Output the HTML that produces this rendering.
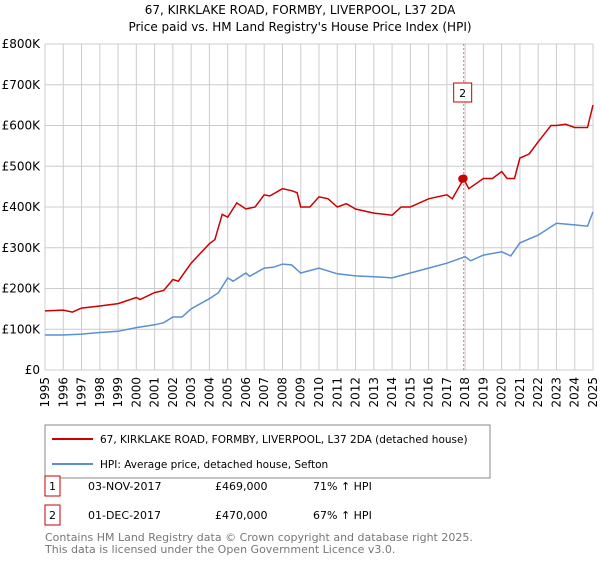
<!DOCTYPE html>
<html><head><meta charset="utf-8"><style>
body{margin:0;width:600px;height:560px;background:#fff;font-family:"Liberation Sans","DejaVu Sans",sans-serif;overflow:hidden}
svg text{font-family:"DejaVu Sans","Liberation Sans",sans-serif}
</style></head><body>
<svg id="c" width="600" height="560" xmlns="http://www.w3.org/2000/svg">
<text x="300" y="14" text-anchor="middle" font-size="12">67, KIRKLAKE ROAD, FORMBY, LIVERPOOL, L37 2DA</text>
<text x="300" y="31" text-anchor="middle" font-size="12">Price paid vs. HM Land Registry's House Price Index (HPI)</text>
<g id="grid"></g><g id="axes"></g><g id="series"></g>
<rect x="45" y="425" width="445" height="53" fill="#fff" stroke="#888"/>
<line x1="52" y1="439" x2="93" y2="439" stroke="#cc0000" stroke-width="2"/>
<text x="100" y="443" font-size="10.5">67, KIRKLAKE ROAD, FORMBY, LIVERPOOL, L37 2DA (detached house)</text>
<line x1="52" y1="464" x2="93" y2="464" stroke="#5b8fd4" stroke-width="2"/>
<text x="100" y="468" font-size="10.5">HPI: Average price, detached house, Sefton</text>
<rect x="45" y="476" width="15" height="20" fill="#fff" stroke="#cc0000"/>
<text x="52.5" y="490" text-anchor="middle" font-size="11">1</text>
<text x="88" y="490" font-size="11">03-NOV-2017</text>
<text x="215" y="490" font-size="11">£469,000</text>
<text x="313" y="490" font-size="11">71% ↑ HPI</text>
<rect x="45" y="505" width="15" height="20" fill="#fff" stroke="#cc0000"/>
<text x="52.5" y="519" text-anchor="middle" font-size="11">2</text>
<text x="88" y="519" font-size="11">01-DEC-2017</text>
<text x="215" y="519" font-size="11">£470,000</text>
<text x="313" y="519" font-size="11">67% ↑ HPI</text>
<text x="45" y="541" font-size="11" fill="#777">Contains HM Land Registry data © Crown copyright and database right 2025.</text>
<text x="45" y="553" font-size="11" fill="#777">This data is licensed under the Open Government Licence v3.0.</text>
</svg>
<script>
const yTicks=[0,100,200,300,400,500,600,700,800];
const yTickLabels=["£0","£100K","£200K","£300K","£400K","£500K","£600K","£700K","£800K"];
const xYears=[1995,1996,1997,1998,1999,2000,2001,2002,2003,2004,2005,2006,2007,2008,2009,2010,2011,2012,2013,2014,2015,2016,2017,2018,2019,2020,2021,2022,2023,2024,2025];
const hpiT=[1995,1996,1997,1998,1999,2000,2001,2001.5,2002,2002.5,2003,2004,2004.5,2005,2005.3,2006,2006.2,2007,2007.5,2008,2008.5,2009,2010,2011,2012,2013,2014,2015,2016,2017,2018,2018.3,2019,2020,2020.5,2021,2022,2023,2024,2024.7,2025];
const hpiV=[86,86,88,92,95,104,111,116,130,130,150,175,190,226,218,238,230,250,252,260,258,238,250,236,231,229,226,238,250,262,278,268,282,290,280,312,331,360,356,353,388];
const propT=[1995,1996,1996.5,1997,1998,1999,2000,2000.2,2001,2001.5,2002,2002.3,2003,2004,2004.3,2004.7,2005,2005.5,2006,2006.5,2007,2007.3,2008,2008.5,2008.8,2009,2009.5,2010,2010.5,2011,2011.5,2012,2013,2014,2014.5,2015,2016,2017,2017.3,2017.92,2018.2,2019,2019.5,2020,2020.3,2020.7,2021,2021.5,2022,2022.7,2023,2023.5,2024,2024.7,2025];
const propV=[145,147,142,152,157,163,178,173,190,195,222,218,262,310,320,382,375,410,395,400,430,427,445,440,435,400,400,425,420,400,408,395,385,380,400,400,420,430,420,469,445,470,470,487,470,470,520,530,560,600,600,603,595,595,650];
const saleT=[2017.84,2017.92];
const saleV=[469,470];
const X0=45,X1=593,Y0=370,Y1=44;
const xs=t=>X0+(t-1995)/30*(X1-X0);
const ys=v=>Y0-v/800*(Y0-Y1);
const NS="http://www.w3.org/2000/svg";
function mk(tag,attrs,parent){const e=document.createElementNS(NS,tag);for(const k in attrs)e.setAttribute(k,attrs[k]);parent.appendChild(e);return e;}
const grid=document.getElementById('grid'),axes=document.getElementById('axes'),ser=document.getElementById('series');
yTicks.forEach((v,i)=>{
 const l=mk('line',{x1:X0,x2:X1,y1:ys(v),y2:ys(v),stroke:'#ccc'},grid);
 
 
 const t=mk('text',{x:40,y:ys(v)+4,'text-anchor':'end','font-size':'12'},axes);
 t.textContent=yTickLabels[i];
 
 
});
xYears.forEach(y=>{
 const l=mk('line',{x1:xs(y),x2:xs(y),y1:Y1,y2:Y0,stroke:'#ccc'},grid);
 
 
 const t=mk('text',{x:0,y:0,'font-size':'12','text-anchor':'end',transform:`translate(${xs(y)+4},${Y0+7}) rotate(-90)`},axes);
 t.textContent=y;
 
 
});
function path(T,V,col,name){
 const d=T.map((t,i)=>(i?'L':'M')+xs(t).toFixed(1)+','+ys(V[i]).toFixed(1)).join('');
 const p=mk('path',{d:d,fill:'none',stroke:col,'stroke-width':'1.5'},ser);
 
 
}
const vl=mk('line',{x1:xs(saleT[1]),x2:xs(saleT[1]),y1:Y1,y2:Y0,stroke:'#f07070','stroke-dasharray':'2,2'},ser);


path(hpiT,hpiV,'#5b8fd4','hpi-line');
path(propT,propV,'#cc0000','property-price-line');
saleT.forEach((t,i)=>{
 const c=mk('circle',{cx:xs(t),cy:ys(saleV[i]),r:4,fill:'#cc0000'},ser);
 
 
});
const bx=mk('rect',{x:xs(saleT[1])-10,y:83,width:18,height:19,fill:'#fff',stroke:'#cc0000'},ser);


const bt=mk('text',{x:xs(saleT[1])-1,y:97,'text-anchor':'middle','font-size':'11'},ser);
bt.textContent='2';


</script>
</body></html>
